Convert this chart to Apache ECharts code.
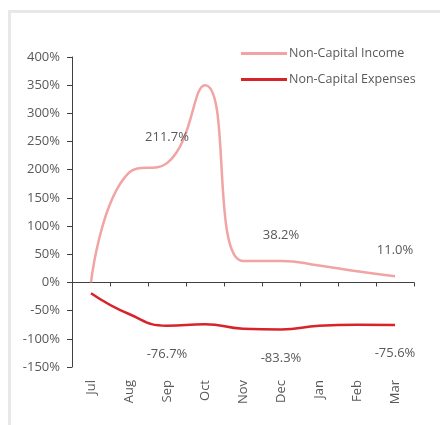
<!DOCTYPE html>
<html>
<head>
<meta charset="utf-8">
<script src="https://cdn.jsdelivr.net/npm/echarts@6/dist/echarts.min.js"></script>
<style>
  html, body { margin: 0; padding: 0; background: #fff; }
  #frame { position: absolute; left: 8px; top: 10px; width: 460px; height: 440px;
           border-left: 3px solid #e8e8e8; border-top: 3px solid #e8e8e8; }
  #main { position: absolute; left: 0; top: 0; width: 440px; height: 425px; }
</style>
</head>
<body>
<div id="frame"></div>
<div id="main"></div>
<script>
var months = ['Jul', 'Aug', 'Sep', 'Oct', 'Nov', 'Dec', 'Jan', 'Feb', 'Mar'];
var income = [0, 195, 211.7, 350, 38, 38.2, 30, 20, 11.0];
var expenses = [-19, -56, -76.7, -74, -82, -83.3, -77, -75, -75.6];
var incomeLabelAt = [2, 5, 8];
var expenseLabelAt = [2, 5, 8];
var yTicks = [-150, -100, -50, 0, 50, 100, 150, 200, 250, 300, 350, 400];

var textColor = '#595959';
var font = 'Open Sans';

// only a few points carry a value label
function withLabels(values, shown, pos, dist) {
    return values.map(function (v, i) {
        var item = { value: v };
        if (shown.indexOf(i) >= 0) {
            item.label = {
                show: true,
                position: pos,
                distance: dist,
                formatter: v.toFixed(1) + '%',
                color: textColor,
                fontFamily: font,
                fontSize: 13
            };
        }
        return item;
    });
}

var myChart = echarts.init(document.getElementById('main'));
var option = {
    animation: false,
    grid: { left: 72, right: 26, top: 57, bottom: 58 },
    legend: {
        orient: 'vertical',
        left: 236,
        top: 42,
        itemGap: 13,
        itemWidth: 46,
        itemHeight: 3,
        icon: 'rect',
        textStyle: { color: textColor, fontFamily: font, fontSize: 12.5, padding: [0, 0, 0, -3] },
        data: ['Non-Capital Income', 'Non-Capital Expenses']
    },
    xAxis: [
        {
            type: 'category',
            data: months,
            boundaryGap: true,
            axisLine: { onZero: true, lineStyle: { color: '#404040', width: 1 } },
            axisTick: { show: true, length: 4, lineStyle: { color: '#404040' } },
            axisLabel: { show: false }
        },
        {
            type: 'category',
            data: months,
            position: 'bottom',
            boundaryGap: true,
            axisLine: { show: false, onZero: false },
            axisTick: { show: false },
            axisLabel: {
                rotate: 90,
                margin: 13,
                color: textColor,
                fontFamily: font,
                fontSize: 13
            }
        }
    ],
    yAxis: {
        type: 'value',
        min: yTicks[0],
        max: yTicks[yTicks.length - 1],
        interval: 50,
        splitLine: { show: false },
        axisLine: { show: true, lineStyle: { color: '#404040', width: 1 } },
        axisTick: { show: true, length: 5, lineStyle: { color: '#404040' } },
        axisLabel: {
            margin: 12,
            color: textColor,
            fontFamily: font,
            fontSize: 13,
            formatter: '{value}%'
        }
    },
    series: [
        {
            name: 'Non-Capital Income',
            type: 'line',
            smooth: 0.5,
            symbol: 'circle',
            symbolSize: 0,
            color: '#F2A3A3',
            lineStyle: { width: 2.5, color: '#F2A3A3' },
            data: withLabels(income, incomeLabelAt, 'top', 19)
        },
        {
            name: 'Non-Capital Expenses',
            type: 'line',
            smooth: 0.5,
            symbol: 'circle',
            symbolSize: 0,
            color: '#D7242B',
            lineStyle: { width: 2.5, color: '#D7242B' },
            data: withLabels(expenses, expenseLabelAt, 'bottom', 22)
        }
    ]
};
myChart.setOption(option);
</script>
</body>
</html>
